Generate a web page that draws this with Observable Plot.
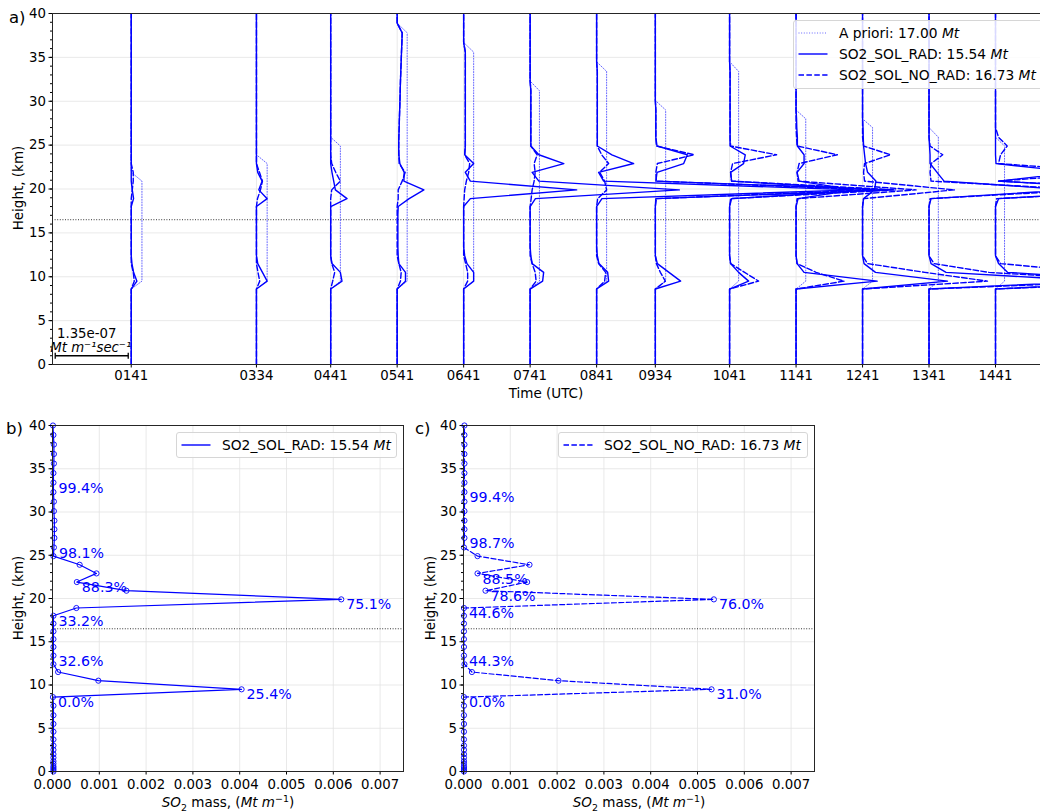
<!DOCTYPE html>
<html><head><meta charset="utf-8">
<script src="https://cdn.jsdelivr.net/npm/d3@7"></script>
<script src="https://cdn.jsdelivr.net/npm/@observablehq/plot@0.6"></script>
<style>
body{margin:0;background:#fff;font-family:"DejaVu Sans",sans-serif;}
#wrap{position:relative;width:1040px;height:812px;overflow:hidden;background:#fff;}
.panel{position:absolute;}
.txt{position:absolute;white-space:nowrap;color:#000;}
.legend{position:absolute;background:rgba(255,255,255,0.85);border:1px solid #d6d6d6;border-radius:3px;font-size:13.8px;box-sizing:border-box;}
.legend .row{display:flex;align-items:center;height:21px;}
.legend svg{flex:none;margin-right:11px;}
sub,sup{font-size:70%;line-height:0;}
</style></head><body><div id="wrap"></div>
<script>
// ---------------- data ----------------
const heights = [0,0.2,0.4,0.6,0.9,1.2,1.6,2.0,2.5,3.0,3.7,4.6,5.5,6.5,7.6,8.6,9.5,10.5,11.5,12.4,13.4,14.4,15.3,16.2,17.1,18.0,18.9,19.9,20.9,21.9,22.9,23.9,24.9,25.9,27.0,28.0,29.0,30.1,31.2,32.3,33.4,34.5,35.6,36.7,37.8,38.9,40.0];
const times = ["0141","0334","0441","0541","0641","0741","0841","0934","1041","1141","1241","1341","1441"];
const timeHours = times.map(t => +t.slice(0,2) + +t.slice(2)/60);
// a priori emission box (x1e-9 Mt m-1 s-1)
const aprioriBase = 9.5;
const aprioriTop  = [20.9,22.9,24.9,37.8,35.6,31.2,33.4,29.0,33.4,28.0,27.0,25.9,24.9];
const aprioriRate = [19.8,19.8,17.9,18.5,18.5,17.2,18.5,19.1,16.7,17.9,18.5,17.2,16.7];
// SO2_SOL_RAD emission profiles, [height km, value x1e-9 Mt m-1 s-1], other levels 0
const radProfiles = [
 [[9.5,10.5],[10.5,4.3],[11.5,1.3],[18.9,4.3],[19.9,1.9]],
 [[9.5,19.8],[10.5,11.1],[11.5,2.4],[18.9,19.8],[19.9,4.3],[20.9,10.5],[21.9,2.4]],
 [[9.5,20.9],[10.5,17.9],[11.5,2.4],[18.9,30.2],[19.9,8.7],[20.9,5.6],[21.9,2.4]],
 [[9.5,15.4],[10.5,15.4],[11.5,3.1],[12.4,1.9],[13.4,1.3],[14.4,1.3],[15.3,1.3],[16.2,1.3],[17.1,1.3],[18.0,1.9],[18.9,22.2],[19.9,49.4],[20.9,12.4],[21.9,13],[22.9,5],[23.9,3.1],[24.9,2.8],[25.9,3.1],[27.0,3.7],[28.0,4.1],[29.0,4.6],[30.1,5.2],[31.2,5.6],[32.3,6.1],[33.4,6.7],[34.5,7.4],[35.6,8],[36.7,8.7],[37.8,9.3]],
 [[9.5,18.5],[10.5,18.5],[11.5,6.1],[12.4,1.9],[18.9,12.4],[19.9,209],[20.9,12.4],[21.9,3.1],[22.9,18.5],[23.9,1.9],[24.9,3.1],[25.9,3.1],[27.0,3.1],[28.0,3.1],[29.0,3.1],[30.1,3.1],[31.2,3.1],[32.3,3.1],[33.4,3.1],[34.5,3.1],[35.6,3.1]],
 [[9.5,23.1],[10.5,25],[11.5,3.7],[12.4,1.3],[18.9,9.8],[19.9,276],[20.9,16.1],[21.9,3.7],[22.9,62.3],[23.9,16.1],[24.9,1.3],[25.9,1.3],[27.0,1.3],[28.0,1.3],[29.0,1.3],[30.1,1.3],[31.2,1.3]],
 [[9.5,22.2],[10.5,20.4],[11.5,4.3],[12.4,1.3],[18.9,9.8],[19.9,475],[20.9,13],[21.9,3.7],[22.9,68.5],[23.9,28.3],[24.9,1.3],[25.9,1.3],[27.0,1.3],[28.0,1.3],[29.0,1.3],[30.1,1.3],[31.2,1.3],[32.3,1.3],[33.4,1.3]],
 [[9.5,46.8],[10.5,25.2],[11.5,3.7],[18.9,0.9],[19.9,440],[20.9,0.9],[21.9,3.1],[22.9,52.4],[23.9,59.2],[24.9,3.1],[25.9,0.9],[27.0,0.9],[28.0,0.9],[29.0,0.9]],
 [[9.5,35.2],[10.5,16.7],[11.5,1.9],[18.9,3.7],[19.9,268],[20.9,3.7],[21.9,1.9],[22.9,25.9],[23.9,29],[24.9,0.9],[25.9,0.9],[27.0,0.9],[28.0,0.9],[29.0,0.9],[30.1,0.9],[31.2,0.9],[32.3,0.9],[33.4,0.9]],
 [[9.5,150],[10.5,14.8],[11.5,1.9],[18.9,3.7],[19.9,107],[20.9,5.6],[21.9,1.9],[22.9,14.8],[23.9,14.8],[24.9,2.4],[25.9,2.4],[27.0,1.3],[28.0,0.9]],
 [[9.5,157],[10.5,24],[11.5,2.8],[18.9,1.9],[19.9,22.2],[20.9,24.6],[21.9,9.3],[22.9,5.6],[23.9,3.7],[24.9,1.9],[25.9,1.3],[27.0,0.9]],
 [[9.5,315],[10.5,31.5],[11.5,3.7],[18.9,3.7],[19.9,259],[20.9,27.8],[21.9,14.8],[22.9,1.9],[23.9,1.9],[24.9,0.9]],
 [[9.5,278],[10.5,22.2],[11.5,5.6],[18.9,5.6],[19.9,278],[20.9,5.6],[21.9,148],[22.9,0.9]]
];
// SO2_SOL_NO_RAD emission profiles
const noRadProfiles = [
 [[9.5,5.6],[10.5,3.7],[19.9,1.9],[20.9,3.7],[21.9,3.7]],
 [[9.5,6.1],[10.5,2.8],[18.9,1.9],[19.9,7.4],[20.9,11.1],[21.9,5.6]],
 [[9.5,3.7],[10.5,7.4],[11.5,1.9],[19.9,1.9],[20.9,17.9],[21.9,9.3],[22.9,1.9]],
 [[9.5,6.1],[10.5,7.4],[11.5,3.1],[18.9,1.9],[19.9,1.9],[20.9,9.3],[21.9,14.8],[22.9,3.7],[23.9,3.1],[24.9,2.8],[25.9,3.1],[27.0,3.7],[28.0,4.1],[29.0,4.6],[30.1,5.2],[31.2,5.6],[32.3,6.1],[33.4,6.7],[34.5,7.4],[35.6,8],[36.7,8.7],[37.8,9.3]],
 [[9.5,7.4],[10.5,7.4],[11.5,3.7],[18.9,0.9],[19.9,1.9],[20.9,5],[21.9,9.3],[22.9,11.1],[23.9,1.9],[24.9,3.1],[25.9,3.1],[27.0,3.1],[28.0,3.1],[29.0,3.1],[30.1,3.1],[31.2,3.1],[32.3,3.1],[33.4,3.1],[34.5,3.1],[35.6,3.1]],
 [[9.5,11.1],[10.5,9.3],[11.5,3.7],[18.9,1.9],[19.9,3.7],[20.9,7.4],[21.9,9.3],[22.9,7.4],[23.9,13],[24.9,1.3],[25.9,1.3],[27.0,1.3],[28.0,1.3],[29.0,1.3],[30.1,1.3],[31.2,1.3]],
 [[9.5,14.8],[10.5,16.7],[11.5,3.7],[18.9,1.9],[19.9,18.5],[20.9,14.8],[21.9,5.6],[22.9,22.2],[23.9,9.3],[24.9,1.3],[25.9,1.3],[27.0,1.3],[28.0,1.3],[29.0,1.3],[30.1,1.3],[31.2,1.3],[32.3,1.3],[33.4,1.3]],
 [[9.5,18.5],[10.5,9.3],[11.5,1.9],[18.9,1.9],[19.9,403],[20.9,1.9],[21.9,0.9],[22.9,3.7],[23.9,71.6],[24.9,1.9],[25.9,0.9],[27.0,0.9],[28.0,0.9],[29.0,0.9]],
 [[9.5,53.7],[10.5,27.8],[11.5,1.9],[18.9,1.9],[19.9,307],[20.9,3.7],[21.9,1.9],[22.9,5.6],[23.9,87],[24.9,1.9],[25.9,0.9],[27.0,0.9],[28.0,0.9],[29.0,0.9],[30.1,0.9],[31.2,0.9],[32.3,0.9],[33.4,0.9]],
 [[9.5,88.8],[10.5,37],[11.5,1.9],[18.9,1.9],[19.9,222],[20.9,3.7],[21.9,1.9],[22.9,5.6],[23.9,76.4],[24.9,1.9],[25.9,0.9]],
 [[9.5,231],[10.5,115],[11.5,9.3],[18.9,1.9],[19.9,170],[20.9,3.7],[21.9,1.9],[22.9,3.7],[23.9,51.8],[24.9,1.9]],
 [[9.5,370],[10.5,111],[11.5,9.3],[18.9,1.9],[19.9,296],[20.9,3.7],[21.9,1.9],[22.9,3.7],[23.9,25.3],[24.9,1.9]],
 [[9.5,333],[10.5,185],[11.5,9.3],[18.9,1.9],[19.9,315],[20.9,3.7],[21.9,222],[22.9,5.6],[23.9,9.3],[24.9,21.6],[25.9,5.6]]
];
// scale bar: 1.35e-07 Mt m-1 s-1 (=135 x1e-9) spans scaleBarHours on the time axis
const scaleBarValue = 135;
const scaleBarLabel = "1.35e-07";
const scaleBarHours = 1.098;
const scaleBarStart = 0.54;
const scaleBarHeight = 1.0;
const tropopause = 16.5;
// total SO2 mass profiles (Mt m-1) on the heights grid
const massRad = [0.00002,0.00002,0.00002,0.00002,0.00002,0.00002,0.00002,0.00002,0.00002,0.00002,0.00002,0.00002,0.00002,0.00002,0.00002,0.00001,0.00404,0.00098,0.00012,0.00002,0.00002,0.00002,0.00002,0.00002,0.00002,0.00002,0.00051,0.00617,0.00158,0.00052,0.00094,0.00058,0.00002,0.00003,0.00004,0.00004,0.00004,0.00003,0.00003,0.00002,0.00002,0.00002,0.00003,0.00003,0.00003,0.00002,0.00001];
const massNoRad = [0.00001,0.00001,0.00001,0.00001,0.00001,0.00001,0.00001,0.00001,0.00001,0.00001,0.00001,0.00001,0.00001,0.00001,0.00001,0.00001,0.0053,0.00203,0.00018,0.00002,0.00001,0.00001,0.00001,0.00001,0.00001,0.00001,0.00001,0.00535,0.00047,0.00136,0.0003,0.00141,0.0003,0.00001,0.00002,0.00002,0.00002,0.00002,0.00002,0.00002,0.00002,0.00002,0.00002,0.00002,0.00002,0.00002,0.00002];
// cumulative-percent annotations [text, height]
const labelsRad = [["99.4%",33.4],["98.1%",25.9],["88.3%",21.9],["75.1%",19.9],["33.2%",18.0],["32.6%",13.4],["25.4%",9.5],["0.0%",8.6]];
const labelsNoRad = [["99.4%",32.3],["98.7%",27.0],["88.5%",22.9],["78.6%",20.9],["76.0%",19.9],["44.6%",18.9],["44.3%",13.4],["31.0%",9.5],["0.0%",8.6]];
const legendTop = [["A priori: 17.00 ","Mt","apriori"],["SO2_SOL_RAD: 15.54 ","Mt","rad"],["SO2_SOL_NO_RAD: 16.73 ","Mt","norad"]];
const yMajor = [0,5,10,15,20,25,30,35,40];
const yMinor = d3.range(0,41,1);
const massTicks = [0,0.001,0.002,0.003,0.004,0.005,0.006,0.007];

// ---------------- styles ----------------
const FONT = "DejaVu Sans";
const BLUE = "#0000ff";
const GRID = "#e3e3e3";
const SPINE = "#262626";
const STY = {
  apriori: {w:1, dash:"1,1.65", op:0.6},
  rad: {w:1.4, dash:"none", op:1},
  norad: {w:1.4, dash:"5.5,2.4", op:1}
};

const wrap = document.getElementById("wrap");
function place(el, left, top){ el.classList.add("panel"); el.style.left = left+"px"; el.style.top = top+"px"; wrap.appendChild(el); }
function addText(html, x, y, opts={}){
  const d = document.createElement("div"); d.className="txt"; d.innerHTML = html;
  d.style.left = x+"px"; d.style.top = y+"px"; d.style.fontSize = (opts.size||13.3)+"px";
  d.style.transform = opts.rotate ? "translate(-50%,-50%) rotate(-90deg)" : (opts.center ? "translate(-50%,-50%)" : "translate(0,-50%)");
  wrap.appendChild(d);
}
function addLegend(left, top, width, height, entries){
  const d = document.createElement("div"); d.className="legend";
  Object.assign(d.style,{left:left+"px",top:top+"px",width:width+"px",height:height+"px",padding:"1px 0 0 4px"});
  for (const [txt, unit, key] of entries){
    const s = STY[key];
    const r = document.createElement("div"); r.className="row";
    r.innerHTML = `<svg width="30" height="10"><line x1="0.5" x2="29.5" y1="5" y2="5" stroke="${BLUE}" stroke-width="${s.w}" stroke-dasharray="${s.dash}" stroke-opacity="${s.op}"/></svg><span>${txt}<i>${unit}</i></span>`;
    d.appendChild(r);
  }
  wrap.appendChild(d);
}

// ---------------- top panel ----------------
const kH = scaleBarHours / scaleBarValue;
function fullProfile(sparse){ const m = new Map(sparse); return heights.map(h => m.has(h) ? m.get(h) : 0); }
function toRows(profiles){
  return profiles.flatMap((sp, i) => fullProfile(sp).map((v, j) => ({t: times[i], x: timeHours[i] + v*kH, h: heights[j]})));
}
const aprioriSparse = aprioriTop.map((top, i) => heights.filter(h => h >= aprioriBase && h <= top).map(h => [h, aprioriRate[i]]));
const aprioriRows = toRows(aprioriSparse);
const radRows = toRows(radProfiles);
const noRadRows = toRows(noRadProfiles);
const xDomTop = [0.499, 15.36];
const barEnds = [scaleBarStart, scaleBarStart + scaleBarHours];

const topPlot = Plot.plot({
  width: 1040, height: 410, marginLeft: 52, marginRight: 0, marginTop: 13, marginBottom: 46,
  x: {domain: xDomTop, axis: null},
  y: {domain: [0, 40], axis: null},
  style: {fontFamily: FONT, fontSize: "13.3px", color: "#000", background: "transparent"},
  marks: [
    Plot.gridY(yMajor, {stroke: GRID, strokeOpacity: 1, strokeWidth: 0.8}),
    Plot.gridX(timeHours, {stroke: GRID, strokeOpacity: 1, strokeWidth: 0.8}),
    Plot.ruleY([tropopause], {stroke: "#000", strokeWidth: 0.8, strokeDasharray: "1,1.6"}),
    Plot.line(aprioriRows, {x: "x", y: "h", z: "t", stroke: BLUE, strokeWidth: STY.apriori.w, strokeOpacity: STY.apriori.op, strokeDasharray: STY.apriori.dash, clip: true}),
    Plot.line(radRows, {x: "x", y: "h", z: "t", stroke: BLUE, strokeWidth: STY.rad.w, clip: true}),
    Plot.line(noRadRows, {x: "x", y: "h", z: "t", stroke: BLUE, strokeWidth: STY.norad.w, strokeDasharray: STY.norad.dash, clip: true}),
    Plot.link([0], {x1: () => barEnds[0], x2: () => barEnds[1], y1: () => scaleBarHeight, y2: () => scaleBarHeight, stroke: "#000", strokeWidth: 1.3}),
    Plot.link(barEnds, {x1: d => d, x2: d => d, y1: () => scaleBarHeight - 0.35, y2: () => scaleBarHeight + 0.35, stroke: "#000", strokeWidth: 1.3}),
    Plot.text([scaleBarLabel], {x: () => scaleBarStart + scaleBarHours/2, y: () => scaleBarHeight, text: d => d, dy: -22, dx: -5, fontSize: 13.3}),
    Plot.text(["Mt m\u207B\u00B9sec\u207B\u00B9"], {x: () => scaleBarStart + scaleBarHours/2, y: () => scaleBarHeight, text: d => d, dy: -8, dx: -1, fontSize: 13.3, fontStyle: "italic"}),
    Plot.axisY(yMajor, {anchor: "left", tickSize: 3.5, tickPadding: 3, label: null}),
    Plot.axisY(yMinor, {anchor: "left", tickSize: 2, tickFormat: () => "", label: null}),
    Plot.axisX(timeHours, {anchor: "bottom", tickSize: 3.5, tickPadding: 3, tickFormat: d => times[timeHours.indexOf(d)], label: null}),
    Plot.ruleY([0, 40], {stroke: SPINE, strokeWidth: 1}),
    Plot.ruleX([xDomTop[0]], {stroke: SPINE, strokeWidth: 1})
  ]
});
place(topPlot, 0, 0);

// ---------------- bottom panels ----------------
function massPlot(vals, labels, key, ml, mr){
  const rows = heights.map((h, i) => ({h, v: vals[i]}));
  const lab = labels.map(([text, h]) => ({text, h, v: vals[heights.indexOf(h)]}));
  return Plot.plot({
    width: 420, height: 400, marginLeft: ml, marginRight: mr, marginTop: 15, marginBottom: 39,
    x: {domain: [0, 0.0075], axis: null},
    y: {domain: [0, 40], axis: null},
    style: {fontFamily: FONT, fontSize: "13.3px", color: "#000", background: "transparent", overflow: "visible"},
    marks: [
      Plot.gridY(yMajor, {stroke: GRID, strokeOpacity: 1, strokeWidth: 0.8}),
      Plot.gridX(massTicks, {stroke: GRID, strokeOpacity: 1, strokeWidth: 0.8}),
      Plot.ruleY([tropopause], {stroke: "#000", strokeWidth: 0.8, strokeDasharray: "1,1.6"}),
      Plot.line(rows, {x: "v", y: "h", stroke: BLUE, strokeWidth: 1.2, strokeDasharray: key === "norad" ? "5,2.4" : "none"}),
      Plot.dot(rows, {x: "v", y: "h", r: 2.6, stroke: BLUE, fill: "none", strokeWidth: 0.9}),
      Plot.text(lab, {x: "v", y: "h", text: "text", dx: 5, textAnchor: "start", lineAnchor: "top", fill: BLUE, fontSize: 14.2}),
      Plot.axisY(yMajor, {anchor: "left", tickSize: 3.5, tickPadding: 3, label: null}),
      Plot.axisY(yMinor, {anchor: "left", tickSize: 2, tickFormat: () => "", label: null}),
      Plot.axisX(massTicks, {anchor: "bottom", tickSize: 3.5, tickPadding: 5, tickFormat: d3.format(".3f"), label: null}),
      Plot.frame({stroke: SPINE, strokeWidth: 1})
    ]
  });
}
place(massPlot(massRad, labelsRad, "rad", 52, 17), 0, 410);
place(massPlot(massNoRad, labelsNoRad, "norad", 43, 26), 420, 410);

// ---------------- texts & legends ----------------
addText("a)", 9, 17, {size: 16.5});
addText("b)", 6, 428, {size: 16.5});
addText("c)", 415, 428, {size: 16.5});
addText("Height, (km)", 18, 188, {rotate: true, size: 13.5});
addText("Time (UTC)", 546, 393, {center: true, size: 13.5});
addText("Height, (km)", 18, 598, {rotate: true, size: 13.5});
addText("Height, (km)", 430, 598, {rotate: true, size: 13.5});
const massLabel = "<i>SO</i><sub>2</sub> mass, (<i>Mt m</i><sup>\u22121</sup>)";
addText(massLabel, 228, 802, {center: true, size: 13.5});
addText(massLabel, 639, 802, {center: true, size: 13.5});
addLegend(793, 20, 270, 69, legendTop);
addLegend(176, 432, 221, 26, [legendTop[1]]);
addLegend(558, 432, 250, 26, [legendTop[2]]);
</script></body></html>
